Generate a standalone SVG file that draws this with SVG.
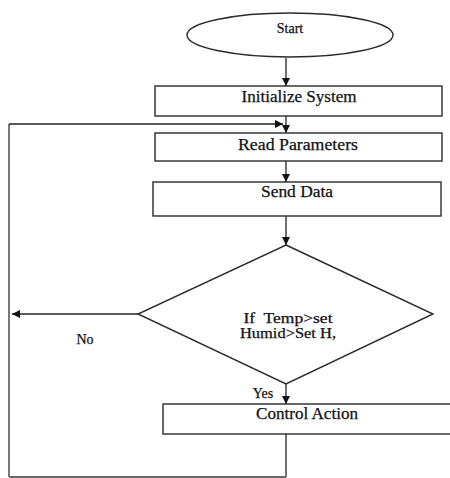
<svg xmlns="http://www.w3.org/2000/svg" width="450" height="478" viewBox="0 0 450 478">
<defs>
<style>
.shape{fill:#fff;stroke:#2a2a2a;stroke-width:1.4}
.line{fill:none;stroke:#222;stroke-width:1.3}
.grey{fill:none;stroke:#6a6a6a;stroke-width:1.8}
text{font-family:"Liberation Serif","Times New Roman",serif;fill:#111;stroke:#111;stroke-width:0.25;text-anchor:middle}
.lbl{font-size:16px}
.sm{font-size:14px}
</style>
<marker id="arr" viewBox="0 0 10 10" refX="10" refY="5" markerWidth="8" markerHeight="8" markerUnits="userSpaceOnUse" orient="auto">
<path d="M0,0 L10,5 L0,10 z" fill="#111"/>
</marker>
</defs>
<rect width="450" height="478" fill="#fff"/>
<g id="connectors">
<line class="line" x1="286" y1="58" x2="286" y2="86" marker-end="url(#arr)"/>
<line class="line" x1="286" y1="116" x2="286" y2="133" marker-end="url(#arr)"/>
<line class="line" x1="286" y1="161" x2="286" y2="182" marker-end="url(#arr)"/>
<line class="line" x1="286" y1="216" x2="286" y2="245" marker-end="url(#arr)"/>
<line class="line" x1="138" y1="314" x2="12" y2="314" marker-end="url(#arr)"/>
<line class="line" x1="286" y1="384" x2="286" y2="404" marker-end="url(#arr)"/>
<polyline class="grey" points="9,477 9,124"/>
<polyline class="line" points="286,434 286,477"/>
<line class="grey" x1="9" y1="477" x2="286" y2="477"/>
<line class="line" x1="9" y1="124" x2="283" y2="124" marker-end="url(#arr)"/>
<text class="sm" x="85" y="344">No</text>
<text class="sm" x="263" y="398">Yes</text>
</g>
<g id="start">
<ellipse class="shape" cx="290" cy="35" rx="103" ry="22"/>
<text class="sm" x="290" y="33">Start</text>
</g>
<g id="init">
<rect class="shape" x="155" y="86" width="287" height="30"/>
<text class="lbl" x="299" y="102" textLength="115" lengthAdjust="spacingAndGlyphs">Initialize System</text>
</g>
<g id="read">
<rect class="shape" x="155" y="133" width="287" height="28"/>
<text class="lbl" x="298" y="150" textLength="120" lengthAdjust="spacingAndGlyphs">Read Parameters</text>
</g>
<g id="send">
<rect class="shape" x="153" y="182" width="288" height="34"/>
<text class="lbl" x="297" y="197" textLength="72" lengthAdjust="spacingAndGlyphs">Send Data</text>
</g>
<g id="decision">
<polygon class="shape" points="286,245 433,314 286,384 138,314"/>
<text class="sm" x="288" y="323" textLength="89" lengthAdjust="spacingAndGlyphs" xml:space="preserve">If  Temp&gt;set</text>
<text class="sm" x="288" y="338" textLength="96" lengthAdjust="spacingAndGlyphs">Humid&gt;Set H,</text>
</g>
<g id="control">
<rect class="shape" x="163" y="404" width="300" height="30"/>
<text class="lbl" x="307" y="419" textLength="102" lengthAdjust="spacingAndGlyphs">Control Action</text>
</g>
</svg>
